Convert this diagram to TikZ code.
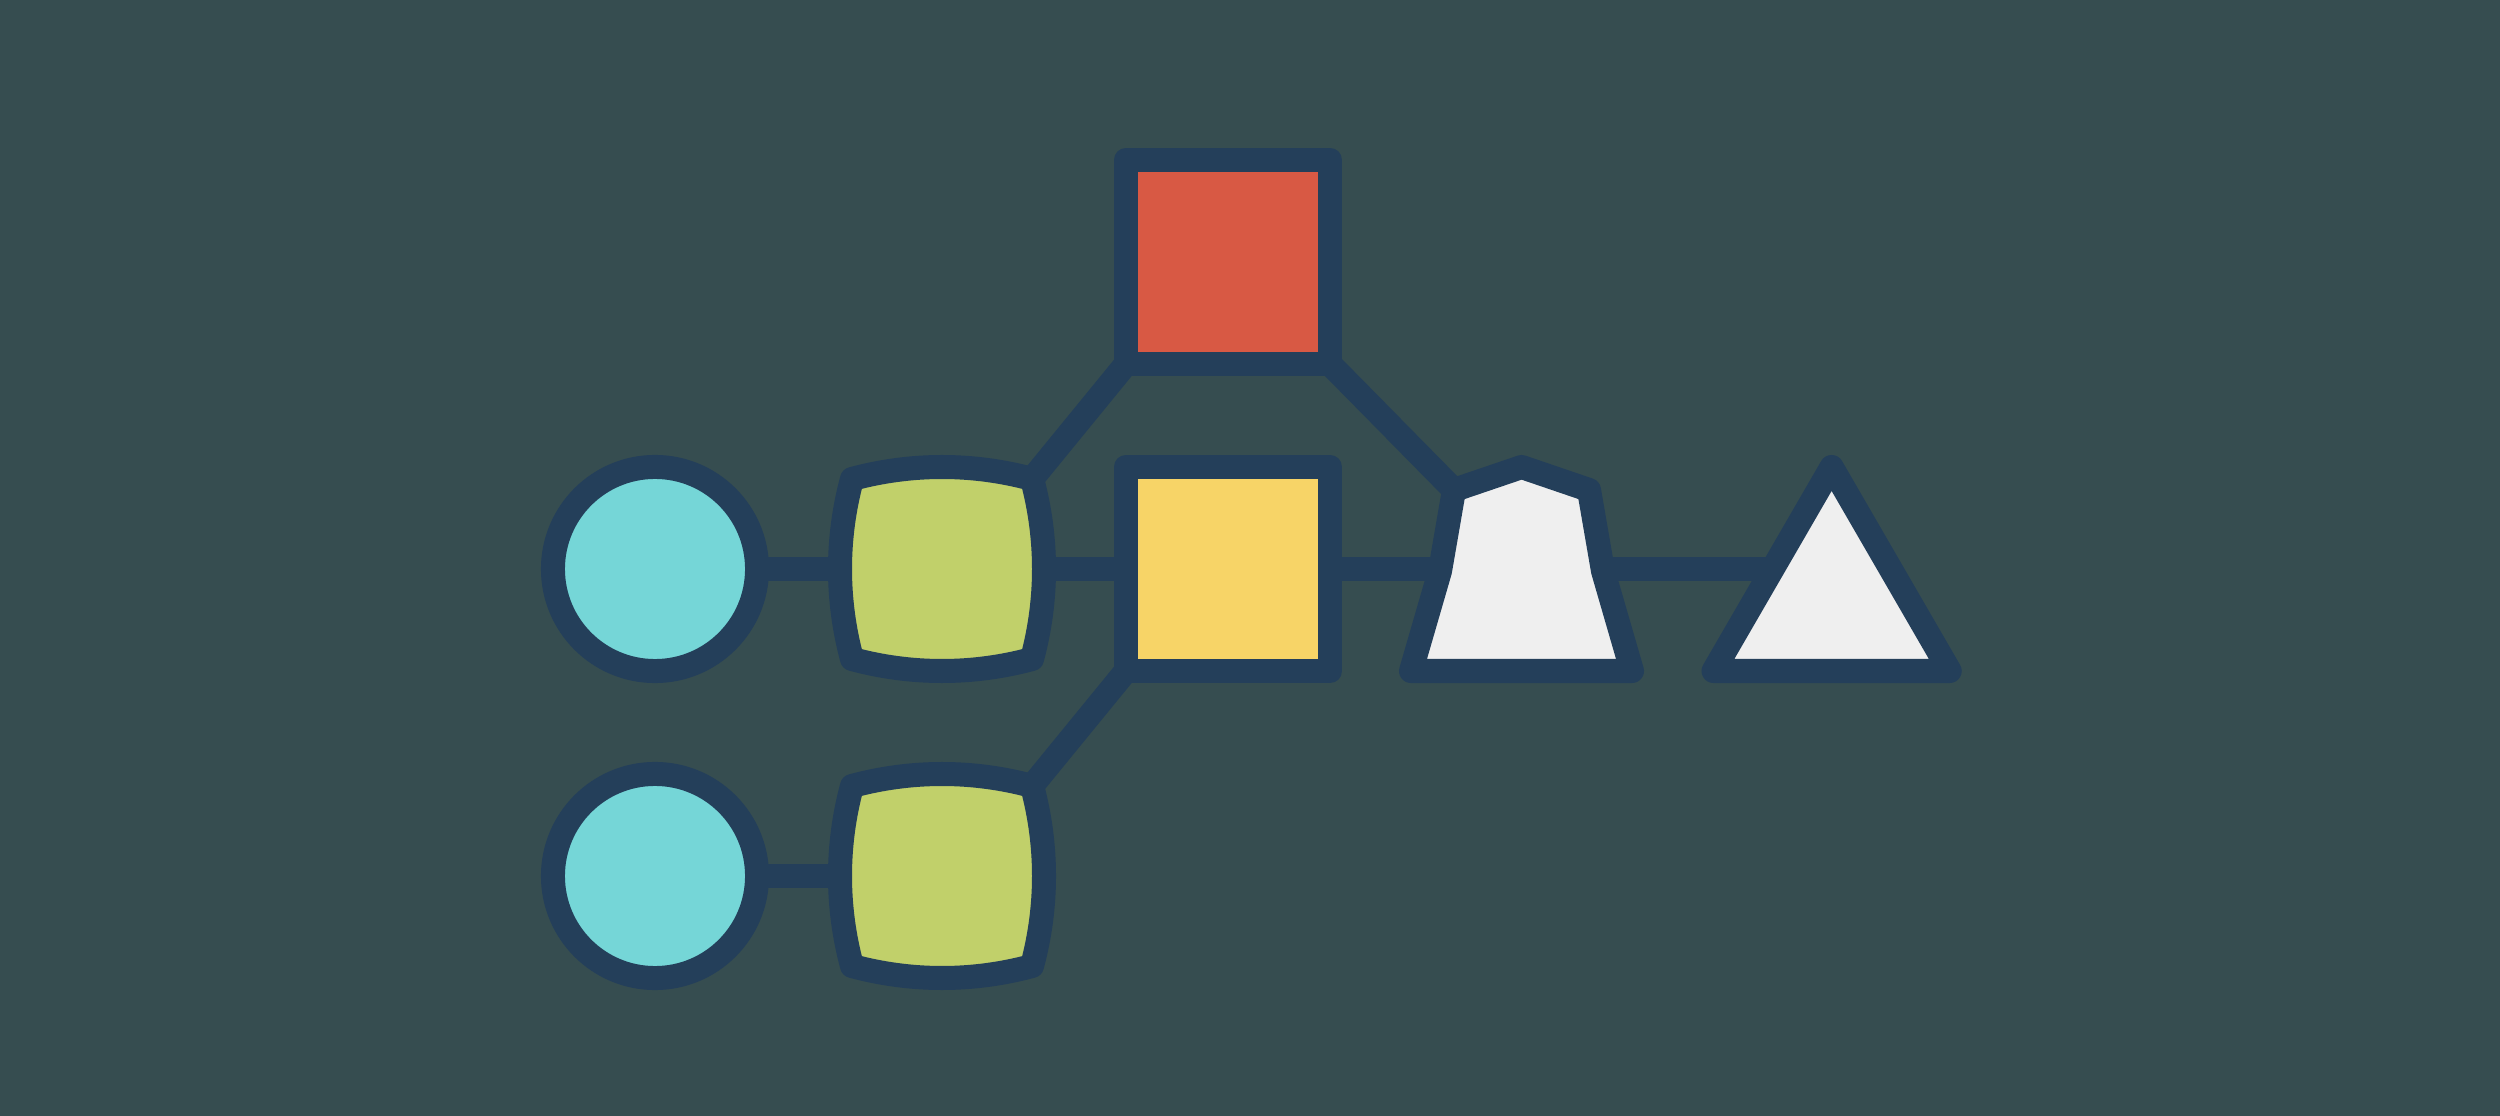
\documentclass[tikz,border=0pt]{standalone}
\definecolor{bgc}{HTML}{364D50}
\definecolor{ink}{HTML}{243F5A}
\definecolor{cyanf}{HTML}{75D6D7}
\definecolor{greenf}{HTML}{C1D06A}
\definecolor{redf}{HTML}{D85944}
\definecolor{yellowf}{HTML}{F7D467}
\definecolor{whitef}{HTML}{EFEFEF}
\pgfdeclarelayer{bglayer}
\pgfdeclarelayer{edgelayer}
\pgfsetlayers{bglayer,edgelayer,main}
\begin{document}
\begin{tikzpicture}[x=0.01cm,y=-0.01cm,
  outl/.style={draw=ink,line width=0.24cm,line join=round},
  roundnode/.style={outl,circle,minimum size=2.04cm,inner sep=0pt,outer sep=0pt,fill=cyanf},
  boxnode/.style={outl,rectangle,minimum size=2.04cm,inner sep=0pt,outer sep=0pt},
  link/.style={draw=ink,line width=0.24cm,line cap=round}]
\begin{pgfonlayer}{bglayer}
\fill[bgc] (0,0) rectangle (2500,1116);
\end{pgfonlayer}
\useasboundingbox (0,0) rectangle (2500,1116);

% circles
\node[roundnode] (c1) at (655,569) {};
\node[roundnode] (c2) at (655,876) {};

% squares
\node[boxnode,fill=redf] (rsq) at (1228,262) {};
\node[boxnode,fill=yellowf] (ysq) at (1228,569) {};

% squircles
\foreach \nm/\cy in {s1/569,s2/876}{
  \begin{scope}[shift={(942,\cy)}]
    \coordinate (\nm) at (0,0);
    \coordinate (\nm tr) at (90,-90);
    \draw[outl,fill=greenf] (-90,-90)
      .. controls (-31,-106) and (31,-106) .. (90,-90)
      .. controls (106,-31) and (106,31) .. (90,90)
      .. controls (31,106) and (-31,106) .. (-90,90)
      .. controls (-106,31) and (-106,-31) .. (-90,-90) -- cycle;
  \end{scope}
}

% trapezoid-like shape
\coordinate (tz) at (1521.6,569);
\coordinate (tzls) at (1454,490);
\draw[outl,fill=whitef] (1521.6,467) -- (1589,490) -- (1603,571) -- (1632,671)
  -- (1411,671) -- (1440,571) -- (tzls) -- cycle;

% triangle
\coordinate (tri) at (1831.6,600);
\draw[outl,fill=whitef] (1831.6,467) -- (1949.7,671) -- (1713.5,671) -- cycle;

% connectors
\begin{pgfonlayer}{edgelayer}
\draw[link] (c1.center) -- (s1);
\draw[link] (c2.center) -- (s2);
\draw[link] (s1) -- (ysq.center);
\draw[link] (ysq.center) -- (tz);
\draw[link] (tz) -- (tri |- tz);
\draw[link] (rsq.south west) -- (s1tr);
\draw[link] (rsq.south east) -- (tzls);
\draw[link] (ysq.south west) -- (s2tr);
\end{pgfonlayer}
\end{tikzpicture}
\end{document}
